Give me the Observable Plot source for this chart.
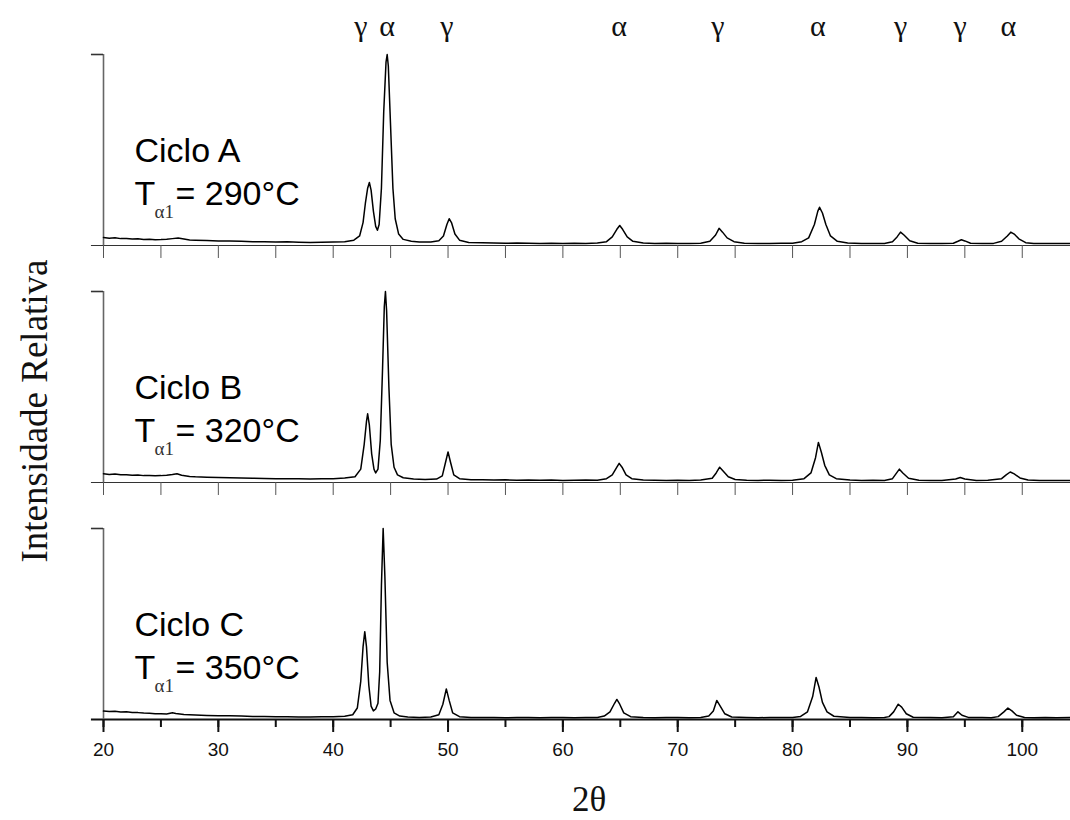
<!DOCTYPE html>
<html>
<head>
<meta charset="utf-8">
<script src="https://cdn.jsdelivr.net/npm/d3@7"></script>
<script src="https://cdn.jsdelivr.net/npm/@observablehq/plot@0.6"></script>
<style>
  html, body { margin: 0; padding: 0; background: white; }
  #chart { width: 1070px; height: 820px; }
</style>
</head>
<body>
<div id="chart"></div>
<script>
// ---- Data ----
const panels = ["A", "B", "C"];
const cicloLabels = ["Ciclo A", "Ciclo B", "Ciclo C"];
const tempLabels = ["= 290°C", "= 320°C", "= 350°C"];
const tSymbol = "T";
const tSubscript = "α1";
const yTitle = "Intensidade Relativa";
const xTitle = "2θ";

const peakLabelX = [42.4, 44.7, 49.9, 64.9, 73.5, 82.2, 89.4, 94.6, 98.8];
const peakLabelText = ["γ", "α", "γ", "α", "γ", "α", "γ", "γ", "α"];

const xTickMinor = [20, 25, 30, 35, 40, 45, 50, 55, 60, 65, 70, 75, 80, 85, 90, 95, 100];
const xTickMajor = [20, 30, 40, 50, 60, 70, 80, 90, 100];
const xTickLabels = ["20", "30", "40", "50", "60", "70", "80", "90", "100"];

// Panel A (Ciclo A) 2θ and relative intensity
const xA = [20, 20.5, 21, 21.5, 22, 22.5, 23, 23.5, 24, 24.5, 25, 25.5, 26, 26.5, 27, 27.5, 28, 29, 30, 31, 32, 33, 34, 35, 36, 37, 38, 39, 40, 41,
  41.8, 42.3, 42.6, 42.8, 43.0, 43.15, 43.3, 43.5, 43.7, 43.85, 44.0, 44.2, 44.4, 44.6, 44.7, 44.8, 45.0, 45.2, 45.4, 45.7, 46.1, 46.8, 47.5, 48.5,
  49.2, 49.6, 49.9, 50.1, 50.3, 50.6, 51.0, 51.8, 53, 54, 55, 56, 57, 58, 59, 60, 61, 62, 63,
  63.8, 64.3, 64.7, 64.95, 65.2, 65.6, 66.1, 67, 68, 69, 70, 71, 72,
  72.8, 73.3, 73.6, 73.9, 74.3, 74.9, 75.8, 77, 78, 79, 80,
  80.8, 81.4, 81.9, 82.2, 82.35, 82.6, 82.9, 83.3, 83.9, 84.8, 86, 87, 88,
  88.7, 89.1, 89.4, 89.7, 90.2, 90.9, 92, 93, 94,
  94.4, 94.7, 95.0, 95.5, 96.5, 97.5,
  98.2, 98.7, 99.0, 99.3, 99.7, 100.3, 101, 102, 103, 104.2];
const yA = [4.2, 3.8, 4.0, 3.6, 3.7, 3.4, 3.5, 3.2, 3.3, 3.0, 3.1, 3.3, 3.6, 3.9, 3.4, 2.9, 2.8, 2.6, 2.4, 2.3, 2.2, 2.0, 2.0, 1.8, 1.9, 1.7, 1.6, 1.7, 1.8, 2.0,
  2.8, 5, 12, 22, 30, 33, 29, 18, 10, 8, 11, 30, 70, 96, 100, 94, 62, 30, 14, 6, 3.2, 2.2, 1.8, 1.8,
  2.5, 5, 11, 14, 12, 6, 2.8, 1.6, 1.4, 1.3, 1.2, 1.3, 1.2, 1.1, 1.2, 1.1, 1.2, 1.1, 1.3,
  2, 4.5, 8.5, 10.5, 8.5, 4.5, 2.2, 1.3, 1.1, 1.2, 1.0, 1.1, 1.2,
  2.2, 5.5, 9, 7, 4, 2, 1.2, 1.1, 1.0, 1.2, 1.2,
  2, 4, 11, 18, 20, 17, 11, 5, 2.2, 1.3, 1.1, 1.0, 1.1,
  2, 4.5, 7, 5.5, 2.5, 1.2, 1.0, 1.1, 1.2,
  2.2, 3, 2.4, 1.2, 1.0, 1.1,
  2.2, 5, 7, 6, 3.5, 1.5, 1.0, 1.1, 1.0, 1.1];

// Panel B (Ciclo B)
const xB = [20, 20.5, 21, 21.5, 22, 22.5, 23, 23.5, 24, 24.5, 25, 25.5, 26, 26.4, 26.8, 27.5, 28, 29, 30, 31, 32, 33, 34, 35, 36, 37, 38, 39, 40, 41,
  41.9, 42.4, 42.7, 42.9, 43.0, 43.15, 43.35, 43.55, 43.7, 43.9, 44.1, 44.3, 44.45, 44.55, 44.65, 44.85, 45.05, 45.3, 45.6, 46.1, 47, 48, 49,
  49.5, 49.8, 50.0, 50.2, 50.5, 51, 52, 53, 54, 55, 56, 57, 58, 59, 60, 61, 62, 63,
  63.8, 64.3, 64.7, 64.9, 65.15, 65.5, 66, 67, 68, 69, 70, 71, 72,
  73.0, 73.35, 73.65, 73.95, 74.4, 75, 76, 77, 78, 79, 80,
  81, 81.6, 82.0, 82.25, 82.5, 82.8, 83.2, 83.8, 85, 86, 87, 88,
  88.7, 89.0, 89.3, 89.6, 90.1, 91, 92, 93,
  94.2, 94.6, 95.0, 96, 97,
  98.2, 98.6, 98.95, 99.3, 99.8, 100.5, 101.5, 102.5, 103.5, 104.2];
const yB = [4.6, 4.2, 4.5, 4.0, 4.1, 3.8, 3.9, 3.6, 3.7, 3.5, 3.6, 3.8, 4.2, 4.6, 3.8, 3.2, 3.0, 2.8, 2.6, 2.5, 2.3, 2.2, 2.1, 2.0, 2.0, 1.9, 1.8, 1.9, 2.0, 2.3,
  3, 7, 20, 32, 36, 30, 15, 7, 5, 7, 22, 60, 92, 100, 90, 50, 20, 8, 4, 2.5, 1.8, 1.6, 1.8,
  3.5, 11, 16, 11, 4, 2, 1.5, 1.4, 1.3, 1.4, 1.2, 1.3, 1.2, 1.3, 1.1, 1.2, 1.3, 1.2,
  2, 4, 8, 10, 8, 4, 2, 1.3, 1.2, 1.1, 1.2, 1.1, 1.3,
  2.2, 5, 8, 6, 3, 1.6, 1.2, 1.1, 1.2, 1.0, 1.2,
  2, 5, 13, 21, 16, 9, 4, 2, 1.3, 1.1, 1.2, 1.1,
  2, 4.5, 7, 5, 2.2, 1.2, 1.1, 1.0,
  1.8, 2.6, 1.8, 1.1, 1.2,
  2, 4, 5.5, 4.5, 2.4, 1.3, 1.1, 1.0, 1.1, 1.0];

// Panel C (Ciclo C)
const xC = [20, 20.5, 21, 21.5, 22, 22.5, 23, 23.5, 24, 24.5, 25, 25.5, 26, 26.3, 27, 28, 29, 30, 31, 32, 33, 34, 35, 36, 37, 38, 39, 40, 41,
  41.7, 42.1, 42.4, 42.6, 42.75, 42.9, 43.1, 43.3, 43.5, 43.7, 43.9, 44.05, 44.2, 44.35, 44.5, 44.7, 44.95, 45.3, 45.8, 46.5, 47.5, 48.5,
  49.2, 49.55, 49.85, 50.1, 50.4, 51, 52, 53, 54, 55, 56, 57, 58, 59, 60, 61, 62, 63,
  63.6, 64.1, 64.5, 64.7, 64.95, 65.3, 65.9, 67, 68, 69, 70, 71, 72,
  72.7, 73.1, 73.4, 73.7, 74.1, 74.7, 76, 77, 78, 79, 80,
  80.7, 81.3, 81.75, 82.05, 82.3, 82.6, 83, 83.6, 85, 86, 87, 88,
  88.4, 88.8, 89.2, 89.5, 89.9, 90.5, 92, 93,
  94.0, 94.4, 94.75, 95.3, 96.5, 97.3,
  97.9, 98.4, 98.75, 99.1, 99.5, 100.2, 101, 102, 103, 104.2];
const yC = [4.4, 4.2, 4.3, 3.9, 4.0, 3.7, 3.6, 3.4, 3.3, 3.0, 3.0, 2.9, 3.5, 3.2, 2.6, 2.3, 2.1, 2.0, 1.9, 1.8, 1.6, 1.6, 1.5, 1.4, 1.3, 1.3, 1.4, 1.5, 1.7,
  2.5, 6, 20, 38, 46, 38, 18, 7, 4.5, 5.5, 8.5, 25, 70, 100, 75, 30, 10, 3.5, 1.8, 1.3, 1.1, 1.3,
  2.5, 8, 16, 10, 3.5, 1.5, 1.1, 1.0, 1.1, 0.9, 1.0, 1.1, 0.9, 1.0, 1.1, 0.9, 1.0, 1.1,
  1.8, 4, 8.5, 10.5, 8, 3.5, 1.5, 1.0, 0.9, 1.1, 1.0, 0.9, 1.0,
  1.8, 4.5, 10, 7, 3, 1.3, 1.0, 0.9, 1.1, 1.0, 1.0,
  1.6, 4, 12, 22, 17, 9, 4, 1.7, 1.1, 1.0, 0.9, 1.0,
  1.5, 4, 8, 6.5, 3, 1.2, 1.0, 0.9,
  1.4, 4, 2.2, 1.1, 1.0, 0.9,
  1.5, 4, 6, 4.5, 2.2, 1.0, 0.9, 1.0, 0.9, 1.0];

// ---- Tables built from the arrays ----
const xs = [xA, xB, xC];
const ys = [yA, yB, yC];
const traceRows = [];
panels.forEach((p, i) => xs[i].forEach((x, j) => traceRows.push({panel: p, x, y: ys[i][j]})));
const tickRowsTop = ["A", "B"].flatMap(p => xTickMinor.map(x => ({panel: p, x})));
const panelRows = panels.map((p, i) => ({panel: p, ciclo: cicloLabels[i], temp: tempLabels[i]}));
const tickLabelRows = xTickMajor.map((x, i) => ({x, text: xTickLabels[i]}));
const peakRows = peakLabelX.map((x, i) => ({x, text: peakLabelText[i]}));

const sans = "'Liberation Sans', Arial, sans-serif";
const serif = "'Liberation Serif', 'Times New Roman', serif";
const xLeft = 18.95, xRight = 104.2;

const chart = Plot.plot({
  width: 1070,
  height: 820,
  marginTop: 54,
  marginBottom: 101,
  marginLeft: 103,
  marginRight: 0,
  style: {background: "white", overflow: "visible"},
  x: {domain: [20, 104.2], axis: null},
  y: {domain: [0, 100], axis: null},
  fy: {domain: panels, axis: null, paddingInner: 46 / 237, paddingOuter: 0},
  marks: [
    // panel baselines (x axis lines)
    Plot.ruleY(["A", "B"], {fy: d => d, y: 0, x1: xLeft, x2: xRight, stroke: "#333", strokeWidth: 1}),
    Plot.ruleY(["C"], {fy: d => d, y: 0, x1: xLeft, x2: xRight, stroke: "#111", strokeWidth: 2}),
    // left vertical axis and top tick
    Plot.ruleX(panels, {fy: d => d, x: 20, y1: 0, y2: 100, stroke: "#666", strokeWidth: 1.6}),
    Plot.ruleY(panels, {fy: d => d, y: 100, x1: xLeft, x2: 20, stroke: "#333", strokeWidth: 1.6}),
    // ticks of top panels
    Plot.ruleX(tickRowsTop, {x: "x", fy: "panel", y1: 0, y2: -6.8, stroke: "#555", strokeWidth: 1}),
    // ticks of bottom panel
    Plot.ruleX(xTickMinor, {x: d => d, fy: () => "C", y1: 0, y2: -4.2, stroke: "#111", strokeWidth: 2}),
    Plot.ruleX(xTickMajor, {x: d => d, fy: () => "C", y1: 0, y2: -6.8, stroke: "#111", strokeWidth: 2}),
    Plot.text(tickLabelRows, {x: "x", text: "text", fy: () => "C", frameAnchor: "bottom", dy: 23, lineAnchor: "top",
      fontFamily: sans, fontSize: 19, fill: "#111"}),
    // diffraction traces
    Plot.line(traceRows, {x: "x", y: "y", fy: "panel", stroke: "#000", strokeWidth: 1.5, strokeLinejoin: "round"}),
    // peak phase labels
    Plot.text(peakRows, {x: "x", text: "text", fy: () => "A", frameAnchor: "top", dy: -19, lineAnchor: "bottom",
      fontFamily: serif, fontSize: 30, fill: "#111"}),
    // panel annotations
    Plot.text(panelRows, {fy: "panel", text: "ciclo", frameAnchor: "bottom-left", dx: 31, dy: -84, textAnchor: "start",
      lineAnchor: "bottom", fontFamily: sans, fontSize: 34, fill: "#000"}),
    Plot.text(panelRows, {fy: "panel", text: () => tSymbol, frameAnchor: "bottom-left", dx: 31, dy: -41, textAnchor: "start",
      lineAnchor: "bottom", fontFamily: sans, fontSize: 34, fill: "#000"}),
    Plot.text(panelRows, {fy: "panel", text: () => tSubscript, frameAnchor: "bottom-left", dx: 51, dy: -28, textAnchor: "start",
      lineAnchor: "bottom", fontFamily: serif, fontSize: 19, fill: "#333"}),
    Plot.text(panelRows, {fy: "panel", text: "temp", frameAnchor: "bottom-left", dx: 72, dy: -41, textAnchor: "start",
      lineAnchor: "bottom", fontFamily: sans, fontSize: 34, fill: "#000"}),
    // axis titles
    Plot.text([yTitle], {fy: () => "B", text: d => d, frameAnchor: "left", dx: -68, dy: 24, rotate: -90,
      textAnchor: "middle", lineAnchor: "middle", fontFamily: serif, fontSize: 37, fill: "#111"}),
    Plot.text([xTitle], {fy: () => "C", text: d => d, frameAnchor: "bottom", dx: 2, dy: 91, lineAnchor: "bottom",
      fontFamily: serif, fontSize: 35, fill: "#111"})
  ]
});
document.getElementById("chart").appendChild(chart);
</script>
</body>
</html>
